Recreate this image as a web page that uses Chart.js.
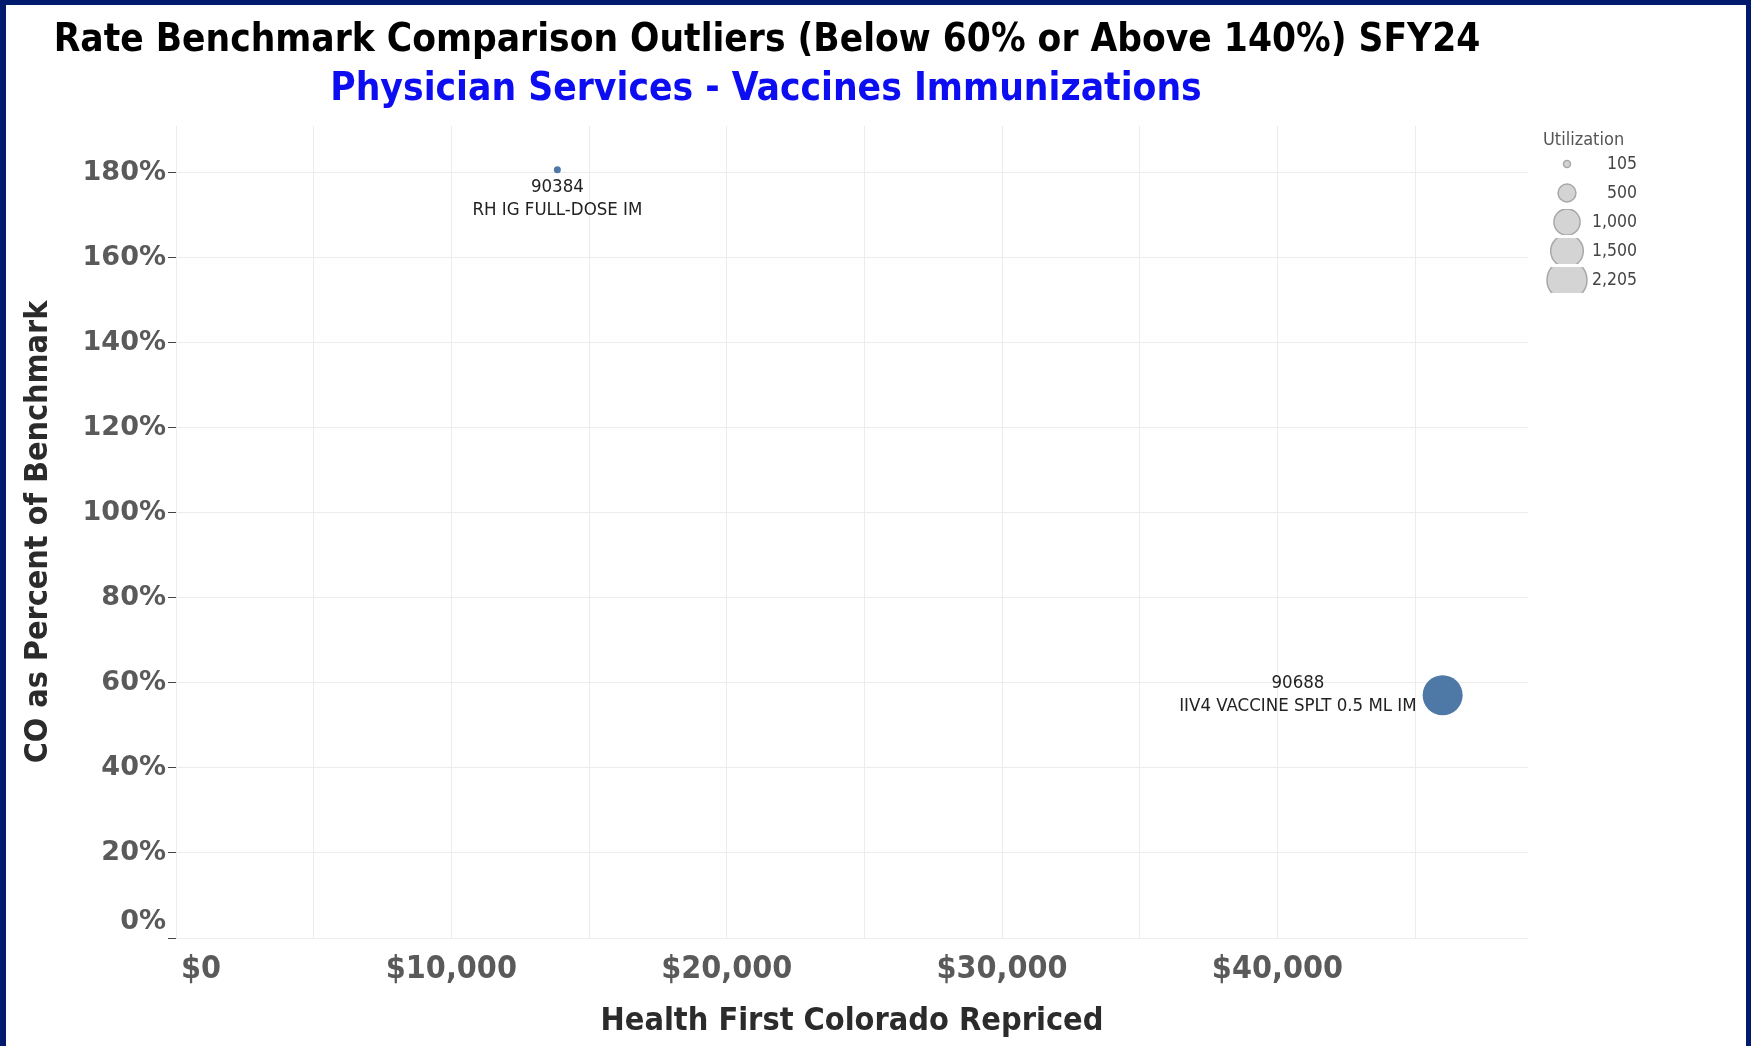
<!DOCTYPE html>
<html>
<head>
<meta charset="utf-8">
<title>Rate Benchmark Comparison Outliers SFY24</title>
<script src="https://cdn.jsdelivr.net/npm/chart.js@4.4.1/dist/chart.umd.min.js"></script>
<style>
  html, body { margin: 0; padding: 0; }
  body { width: 1751px; height: 1046px; background: #001a6e; position: relative; overflow: hidden; }
  #paper { position: absolute; left: 6px; top: 5px; width: 1740px; height: 1041px; background: #fff; }
  #wrap { position: absolute; left: 0; top: 0; width: 1751px; height: 1046px; }
</style>
</head>
<body>
<div id="paper"></div>
<div id="wrap"><canvas id="chart" width="1751" height="1046"></canvas></div>
<script>
// --- Data ---
const codes = ["90384", "90688"];
const descriptions = ["RH IG FULL-DOSE IM", "IIV4 VACCINE SPLT 0.5 ML IM"];
const repriced = [13850, 46000];        // Health First Colorado Repriced ($)
const pctOfBenchmark = [180.7, 57.1];   // CO as percent of benchmark
const utilization = [105, 2205];
const legendValues = [105, 500, 1000, 1500, 2205];

// axis ticks (grid every $5,000, labels every $10,000)
const xTickValues = [0, 5000, 10000, 15000, 20000, 25000, 30000, 35000, 40000, 45000];
const yTickValues = [0, 20, 40, 60, 80, 100, 120, 140, 160, 180];
const xMax = 49100;
const yMax = 191;

const TITLE = "Rate Benchmark Comparison Outliers (Below 60% or Above 140%) SFY24";
const SUBTITLE = "Physician Services - Vaccines Immunizations";

const FAMILY = "'DejaVu Sans Condensed', 'DejaVu Sans', sans-serif";
const WIDE = "'DejaVu Sans', sans-serif";
const BLUE = "#4e79a7";

// bubble radius from utilization
function radiusFor(u) {
  const lo = Math.sqrt(legendValues[0]), hi = Math.sqrt(legendValues[legendValues.length - 1]);
  return 3.5 + 16.5 * (Math.sqrt(u) - lo) / (hi - lo);
}

// font size that makes text take a given width
const measureCtx = document.createElement("canvas").getContext("2d");
function fitSize(text, weight, family, width) {
  measureCtx.font = `${weight} 100px ${family}`;
  return 100 * width / measureCtx.measureText(text).width;
}

const points = repriced.map((x, i) => ({ x: x, y: pctOfBenchmark[i], r: radiusFor(utilization[i]) }));

// --- Titles ---
const titlePlugin = {
  id: "titles",
  afterDraw(chart) {
    const ctx = chart.ctx;
    ctx.save();
    ctx.textAlign = "center";
    ctx.textBaseline = "middle";
    ctx.fillStyle = "#000";
    ctx.font = `bold ${fitSize(TITLE, "bold", FAMILY, 1427)}px ${FAMILY}`;
    ctx.fillText(TITLE, 767, 41);
    ctx.fillStyle = "#0d0df2";
    ctx.font = `bold ${fitSize(SUBTITLE, "bold", FAMILY, 872)}px ${FAMILY}`;
    ctx.fillText(SUBTITLE, 766, 90);
    ctx.restore();
  }
};

// --- Point labels (code + description) ---
const labelPlugin = {
  id: "pointLabels",
  afterDatasetsDraw(chart) {
    const ctx = chart.ctx;
    const meta = chart.getDatasetMeta(0);
    ctx.save();
    ctx.font = `18.5px ${FAMILY}`;
    ctx.fillStyle = "#222";
    ctx.textAlign = "center";
    ctx.textBaseline = "middle";
    meta.data.forEach((el, i) => {
      const r = points[i].r;
      const w = Math.max(ctx.measureText(codes[i]).width, ctx.measureText(descriptions[i]).width);
      if (el.x > chart.chartArea.right - 250) {
        // near the right edge: put it on the left of the bubble
        const cx = el.x - r - 6 - w / 2;
        ctx.fillText(codes[i], cx, el.y - 12);
        ctx.fillText(descriptions[i], cx, el.y + 11);
      } else {
        ctx.fillText(codes[i], el.x, el.y + r + 14);
        ctx.fillText(descriptions[i], el.x, el.y + r + 37);
      }
    });
    ctx.restore();
  }
};

// --- Size legend ---
const sizeLegendPlugin = {
  id: "sizeLegend",
  afterDraw(chart) {
    const ctx = chart.ctx;
    ctx.save();
    ctx.fillStyle = "#555";
    ctx.font = `18px ${FAMILY}`;
    ctx.textBaseline = "middle";
    ctx.textAlign = "left";
    ctx.fillText("Utilization", 1543, 140);
    ctx.font = `17.5px ${FAMILY}`;
    legendValues.forEach((v, i) => {
      const y = 164 + i * 29;
      ctx.save();
      ctx.beginPath();
      ctx.rect(1540, y - 13, 60, 26);
      ctx.clip();
      ctx.beginPath();
      ctx.arc(1567, y, radiusFor(v), 0, Math.PI * 2);
      ctx.fillStyle = "#d4d4d4";
      ctx.fill();
      ctx.strokeStyle = "#a8a8a8";
      ctx.lineWidth = 1.5;
      ctx.stroke();
      ctx.restore();
      ctx.fillStyle = "#444";
      ctx.textAlign = "right";
      ctx.fillText(v.toLocaleString("en-US"), 1637, y);
    });
    ctx.restore();
  }
};

const xTitle = "Health First Colorado Repriced";
const yTitle = "CO as Percent of Benchmark";

new Chart(document.getElementById("chart"), {
  type: "bubble",
  data: {
    datasets: [{
      label: "Outliers",
      data: points,
      backgroundColor: BLUE,
      borderColor: BLUE,
      borderWidth: 0
    }]
  },
  options: {
    responsive: false,
    devicePixelRatio: 1,
    animation: false,
    layout: { padding: { top: 126, right: 223, bottom: 0, left: 0 } },
    plugins: {
      legend: { display: false },
      tooltip: { enabled: false }
    },
    scales: {
      x: {
        type: "linear",
        min: 0,
        max: xMax,
        border: { display: false },
        grid: { color: "#ececec", drawTicks: false },
        afterBuildTicks: s => { s.ticks = xTickValues.map(v => ({ value: v })); },
        ticks: {
          autoSkip: false,
          maxRotation: 0,
          padding: 12,
          color: "#5a5a5a",
          font: { family: FAMILY, size: 32, weight: "bold" },
          // $0 sits right of its grid line in the original, hence the padding spaces
          callback: v => v === 0 ? "     $0" : (v % 10000 === 0 ? "$" + v.toLocaleString("en-US") : "")
        },
        title: {
          display: true,
          text: xTitle,
          color: "#2b2b2b",
          font: { family: FAMILY, size: fitSize(xTitle, "bold", FAMILY, 503), weight: "bold" },
          padding: { top: 0, bottom: 5 }
        },
        afterFit: s => { s.height = 108; }
      },
      y: {
        min: 0,
        max: yMax,
        border: { display: false },
        grid: { color: "#ececec", tickLength: 8, tickColor: "#444" },
        afterBuildTicks: s => { s.ticks = yTickValues.map(v => ({ value: v })); },
        ticks: {
          padding: 2,
          color: "#5a5a5a",
          font: { family: WIDE, size: 27, weight: "bold" },
          // 0% is lifted above the bottom line in the original
          callback: v => v === 0 ? ["0%", ""] : v + "%"
        },
        title: {
          display: true,
          text: yTitle,
          color: "#2b2b2b",
          font: { family: FAMILY, size: fitSize(yTitle, "bold", FAMILY, 463), weight: "bold" },
          padding: { top: 19, bottom: 0 }
        },
        afterFit: s => { s.width = 176; }
      }
    }
  },
  plugins: [titlePlugin, labelPlugin, sizeLegendPlugin]
});
</script>
</body>
</html>
